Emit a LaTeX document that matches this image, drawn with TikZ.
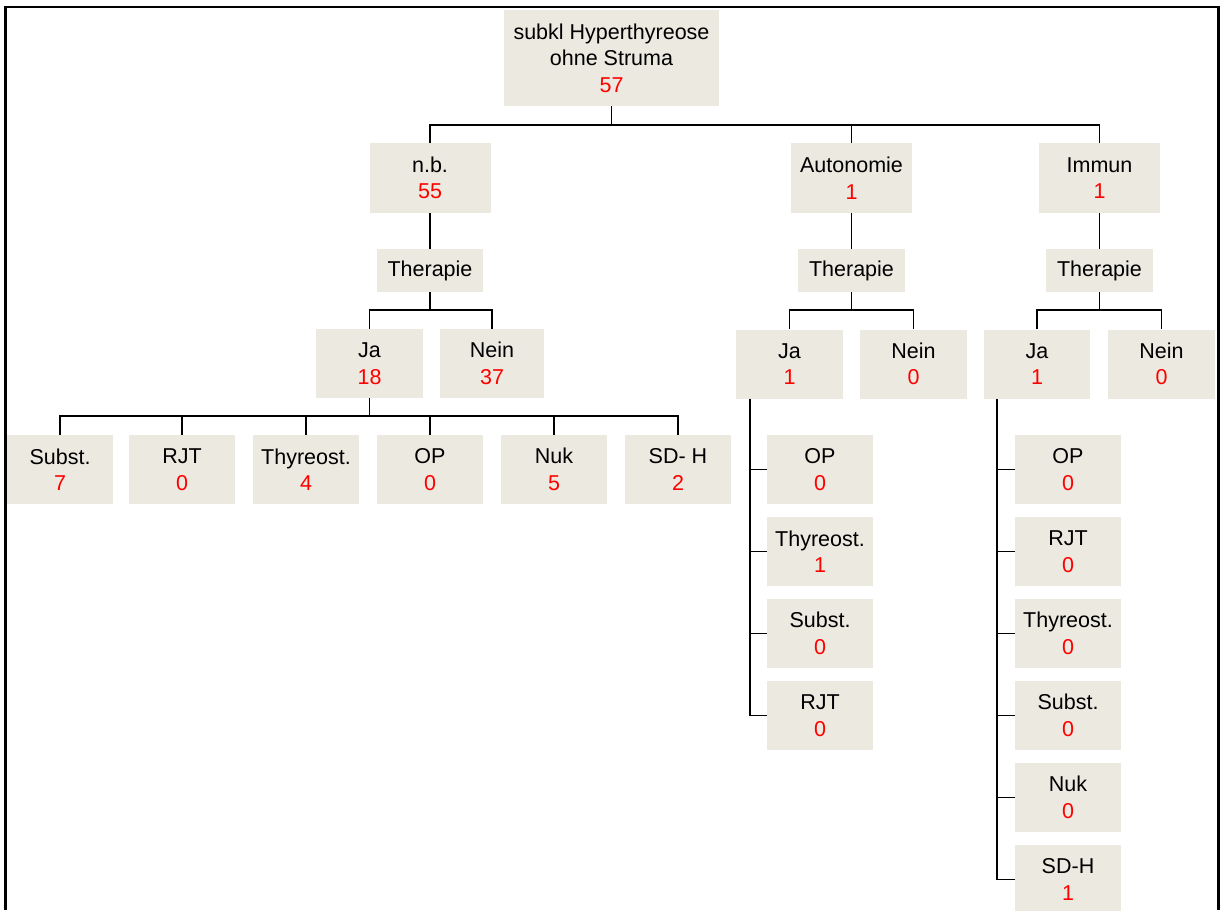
\documentclass[tikz,border=0pt]{standalone}
\usepackage{fontspec}
\setmainfont{Liberation Sans}
\usetikzlibrary{calc}
\definecolor{boxfill}{RGB}{236,233,224}
\newcommand\cnt[1]{\textcolor{red}{#1}}
\tikzset{
  box/.style={fill=boxfill, inner sep=0pt, align=center,
    font=\fontsize{21.5}{26.5}\selectfont},
  twoline/.style={box, minimum width=106pt, minimum height=69pt},
  link/.style={line width=1.5pt, black},
  frame/.style={line width=2.5pt, black}
}
\begin{document}
\begin{tikzpicture}[x=1pt,y=-1pt]
\useasboundingbox (0,0) rectangle (1220,910);
\draw[frame] (5.5,910) -- (5.5,6.8) -- (1218.5,6.8) -- (1218.5,910);

% root
\node[box, minimum width=215pt, minimum height=96pt] (root) at (611.5,58)
  {subkl Hyperthyreose\\ohne Struma\\\cnt{57}};

% first level
\node[twoline, minimum width=121pt, minimum height=70pt] (nb)    at (430,178)    {n.b.\\\cnt{55}};
\node[twoline, minimum width=121pt, minimum height=70pt] (auto)  at (851.5,178)  {Autonomie\\\cnt{1}};
\node[twoline, minimum width=121pt, minimum height=70pt] (immun) at (1099.5,178) {Immun\\\cnt{1}};

% therapy nodes
\node[box, minimum width=106pt, minimum height=43pt] (thA) at (430,270.5)    {Therapie};
\node[box, minimum width=107pt, minimum height=43pt] (thB) at (851.5,270.5)  {Therapie};
\node[box, minimum width=107pt, minimum height=43pt] (thC) at (1099.5,270.5) {Therapie};

% yes / no
\node[twoline, minimum width=107pt] (jaA)   at (369.5,363.5) {Ja\\\cnt{18}};
\node[twoline, minimum width=104pt] (neinA) at (492,363.5)   {Nein\\\cnt{37}};
\node[twoline, minimum width=107pt] (jaB)   at (789.5,364)   {Ja\\\cnt{1}};
\node[twoline, minimum width=107pt] (neinB) at (913.5,364)   {Nein\\\cnt{0}};
\node[twoline, minimum width=106pt] (jaC)   at (1037,364)    {Ja\\\cnt{1}};
\node[twoline, minimum width=107pt] (neinC) at (1161.5,364)  {Nein\\\cnt{0}};

% therapies under n.b.
\node[twoline] (a1) at (60,469.5)  {Subst.\\\cnt{7}};
\node[twoline] (a2) at (182,469.5) {RJT\\\cnt{0}};
\node[twoline] (a3) at (306,469.5) {Thyreost.\\\cnt{4}};
\node[twoline] (a4) at (430,469.5) {OP\\\cnt{0}};
\node[twoline] (a5) at (554,469.5) {Nuk\\\cnt{5}};
\node[twoline] (a6) at (678,469.5) {SD- H\\\cnt{2}};

% therapies under Autonomie
\node[twoline] (b1) at (820,469.5) {OP\\\cnt{0}};
\node[twoline] (b2) at (820,551.5) {Thyreost.\\\cnt{1}};
\node[twoline] (b3) at (820,633.5) {Subst.\\\cnt{0}};
\node[twoline] (b4) at (820,715.5) {RJT\\\cnt{0}};

% therapies under Immun
\node[twoline] (c1) at (1068,469.5) {OP\\\cnt{0}};
\node[twoline] (c2) at (1068,551.5) {RJT\\\cnt{0}};
\node[twoline] (c3) at (1068,633.5) {Thyreost.\\\cnt{0}};
\node[twoline] (c4) at (1068,715.5) {Subst.\\\cnt{0}};
\node[twoline] (c5) at (1068,797.5) {Nuk\\\cnt{0}};
\node[twoline] (c6) at (1068,879.5) {SD-H\\\cnt{1}};

% connectors
\draw[link] (root.south) -- ++(0,19) coordinate (rb);
\draw[link] (nb.north) |- (rb) -| (immun.north);
\draw[link] (auto.north) -- (auto.north |- rb);

\draw[link] (nb.south) -- (thA.north);
\draw[link] (auto.south) -- (thB.north);
\draw[link] (immun.south) -- (thC.north);

\draw[link] (thA.south) -- ++(0,18) coordinate (ta);
\draw[link] (jaA.north) |- (ta) -| (neinA.north);
\draw[link] (thB.south) -- ++(0,18) coordinate (tb);
\draw[link] (jaB.north) |- (tb) -| (neinB.north);
\draw[link] (thC.south) -- ++(0,18) coordinate (tc);
\draw[link] (jaC.north) |- (tc) -| (neinC.north);

\draw[link] (jaA.south) -- ++(0,18) coordinate (jb);
\draw[link] (a1.north) |- (jb) -| (a6.north);
\foreach \n in {a2,a3,a4,a5} \draw[link] (\n.north) -- (\n.north |- jb);

\coordinate (trB) at ($(jaB.south west)+(14,0)$);
\draw[link] (trB) |- (b4.west);
\foreach \n in {b1,b2,b3} \draw[link] (\n.west) -- (\n.west -| trB);

\coordinate (trC) at ($(jaC.south west)+(13,0)$);
\draw[link] (trC) |- (c6.west);
\foreach \n in {c1,c2,c3,c4,c5} \draw[link] (\n.west) -- (\n.west -| trC);
\end{tikzpicture}
\end{document}
